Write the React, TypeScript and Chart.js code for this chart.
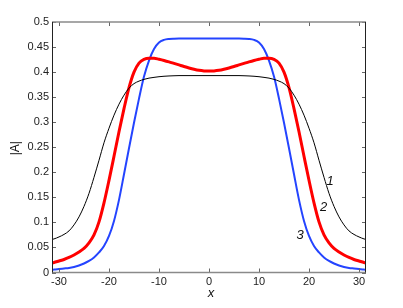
import React, { useEffect, useRef } from "react";
import { Chart, registerables } from "chart.js";

Chart.register(...registerables);

// x positions (sampled)
const xs = [
  -31.4, -31, -30, -29, -28, -27, -26, -25, -24, -23,
  -22, -21, -20, -19, -18, -17, -16, -15, -14, -13,
  -12, -11, -10, -9, -8, -7, -6, -5, -4, -3, -2, -1,
  0,
  1, 2, 3, 4, 5, 6, 7, 8, 9, 10, 11, 12,
  13, 14, 15, 16, 17, 18, 19, 20, 21, 22,
  23, 24, 25, 26, 27, 28, 29, 30, 31, 31.4,
];

// curve 1 (thin black)
const curve1 = [
  0.066, 0.067, 0.071, 0.076, 0.083, 0.095, 0.111, 0.132, 0.158, 0.190,
  0.224, 0.259, 0.288, 0.314, 0.336, 0.354, 0.368, 0.377, 0.382, 0.3855,
  0.388, 0.3895, 0.3908, 0.3917, 0.3923, 0.3927, 0.393, 0.393, 0.393, 0.393, 0.393, 0.393,
  0.393,
  0.393, 0.393, 0.393, 0.393, 0.393, 0.393, 0.3927, 0.3923, 0.3917, 0.3908, 0.3895, 0.388,
  0.3855, 0.382, 0.377, 0.368, 0.354, 0.336, 0.314, 0.288, 0.259, 0.224,
  0.190, 0.158, 0.132, 0.111, 0.095, 0.083, 0.076, 0.071, 0.067, 0.066,
];

// curve 2 (thick red)
const curve2 = [
  0.019, 0.020, 0.023, 0.026, 0.030, 0.035, 0.041, 0.048, 0.059, 0.075,
  0.101, 0.139, 0.184, 0.232, 0.281, 0.327, 0.369, 0.400, 0.418, 0.4255,
  0.4278, 0.4278, 0.4257, 0.4233, 0.4205, 0.4174, 0.4143, 0.4112, 0.4083, 0.4057, 0.4036, 0.4024,
  0.402,
  0.4024, 0.4036, 0.4057, 0.4083, 0.4112, 0.4143, 0.4174, 0.4205, 0.4233, 0.4257, 0.4278, 0.4278,
  0.4255, 0.418, 0.400, 0.369, 0.327, 0.281, 0.232, 0.184, 0.139, 0.101,
  0.075, 0.059, 0.048, 0.041, 0.035, 0.030, 0.026, 0.023, 0.020, 0.019,
];

// curve 3 (blue)
const curve3 = [
  0.005, 0.006, 0.007, 0.008, 0.009, 0.011, 0.014, 0.018, 0.023, 0.030,
  0.040, 0.053, 0.073, 0.103, 0.145, 0.196, 0.248, 0.299, 0.347, 0.391,
  0.423, 0.446, 0.459, 0.4643, 0.4662, 0.4668, 0.467, 0.467, 0.467, 0.467, 0.467, 0.467,
  0.467,
  0.467, 0.467, 0.467, 0.467, 0.467, 0.467, 0.4668, 0.4662, 0.4643, 0.459, 0.446, 0.423,
  0.391, 0.347, 0.299, 0.248, 0.196, 0.145, 0.103, 0.073, 0.053, 0.040,
  0.030, 0.023, 0.018, 0.014, 0.011, 0.009, 0.008, 0.007, 0.006, 0.005,
];

const xTicks = [-30, -20, -10, 0, 10, 20, 30];
const xTickLabels = ["-30", "-20", "-10", "0", "10", "20", "30"];
const yTicks = [0, 0.05, 0.1, 0.15, 0.2, 0.25, 0.3, 0.35, 0.4, 0.45, 0.5];
const yTickLabels = ["0", "0.05", "0.1", "0.15", "0.2", "0.25", "0.3", "0.35", "0.4", "0.45", "0.5"];

const curveLabels = ["1", "2", "3"];
const curveLabelX = [24.2, 22.9, 18.2];
const curveLabelY = [0.182, 0.129, 0.075];

const xTitle = "x";
const yTitle = "|A|";

const FONT = "'Liberation Sans', Arial, Helvetica, sans-serif";

const framePlugin = {
  id: "frame",
  afterDraw(chart: any) {
    const { ctx, chartArea: a, scales } = chart;
    const xs_ = scales.x;
    const ys_ = scales.y;
    ctx.save();
    // inward ticks
    ctx.strokeStyle = "#666";
    ctx.lineWidth = 1;
    const tl = 4;
    xTicks.forEach((v) => {
      const px = Math.round(xs_.getPixelForValue(v)) + 0.5;
      ctx.beginPath();
      ctx.moveTo(px, a.bottom);
      ctx.lineTo(px, a.bottom - tl);
      ctx.moveTo(px, a.top);
      ctx.lineTo(px, a.top + tl);
      ctx.stroke();
    });
    yTicks.forEach((v) => {
      const py = Math.round(ys_.getPixelForValue(v)) + 0.5;
      ctx.beginPath();
      ctx.moveTo(a.left, py);
      ctx.lineTo(a.left + tl, py);
      ctx.moveTo(a.right, py);
      ctx.lineTo(a.right - tl, py);
      ctx.stroke();
    });
    // spines
    ctx.strokeStyle = "#8a8a8a";
    ctx.lineWidth = 1.5;
    ctx.beginPath();
    ctx.moveTo(a.left, a.top);
    ctx.lineTo(a.right, a.top);
    ctx.moveTo(a.left, a.bottom);
    ctx.lineTo(a.right, a.bottom);
    ctx.stroke();
    ctx.strokeStyle = "#222";
    ctx.lineWidth = 1;
    ctx.beginPath();
    ctx.moveTo(Math.round(a.left) + 0.5, a.top);
    ctx.lineTo(Math.round(a.left) + 0.5, a.bottom);
    ctx.moveTo(Math.round(a.right) - 0.5, a.top);
    ctx.lineTo(Math.round(a.right) - 0.5, a.bottom);
    ctx.stroke();

    // curve labels
    ctx.fillStyle = "#111";
    ctx.font = `italic 13px ${FONT}`;
    ctx.textAlign = "center";
    ctx.textBaseline = "middle";
    curveLabels.forEach((t, i) => {
      ctx.fillText(t, xs_.getPixelForValue(curveLabelX[i]), ys_.getPixelForValue(curveLabelY[i]));
    });

    // axis titles
    ctx.font = `italic 13px ${FONT}`;
    ctx.fillText(xTitle, (a.left + a.right) / 2 + 2, a.bottom + 21);
    ctx.font = `12px ${FONT}`;
    ctx.translate(16, (a.top + a.bottom) / 2 + 1);
    ctx.rotate(-Math.PI / 2);
    ctx.fillText(yTitle, 0, 0);
    ctx.restore();
  },
};

export default function App() {
  const ref = useRef<HTMLCanvasElement | null>(null);
  useEffect(() => {
    if (!ref.current) return;
    const mk = (vals: number[]) => xs.map((x, i) => ({ x, y: vals[i] }));
    const chart = new Chart(ref.current, {
      type: "line",
      data: {
        datasets: [
          {
            label: curveLabels[0],
            data: mk(curve1),
            borderColor: "#000000",
            borderWidth: 1,
            pointRadius: 0,
            cubicInterpolationMode: "monotone",
          },
          {
            label: curveLabels[1],
            data: mk(curve2),
            borderColor: "#ff0000",
            borderWidth: 3,
            pointRadius: 0,
            cubicInterpolationMode: "monotone",
          },
          {
            label: curveLabels[2],
            data: mk(curve3),
            borderColor: "#2444ff",
            borderWidth: 2,
            pointRadius: 0,
            cubicInterpolationMode: "monotone",
          },
        ],
      },
      options: {
        responsive: false,
        animation: false,
        events: [],
        layout: { padding: { left: 0, top: 22, right: 37, bottom: 0 } },
        plugins: { legend: { display: false }, tooltip: { enabled: false } },
        scales: {
          x: {
            type: "linear",
            min: -31.4,
            max: 31.4,
            afterBuildTicks: (s: any) => {
              s.ticks = xTicks.map((v) => ({ value: v }));
            },
            afterFit: (s: any) => {
              s.height = 35.5;
            },
            grid: { display: false, drawTicks: false },
            border: { display: false },
            ticks: {
              autoSkip: false,
              maxRotation: 0,
              padding: 3,
              color: "#222",
              font: { family: FONT, size: 11 },
              callback: (_v: any, i: number) => xTickLabels[i],
            },
          },
          y: {
            type: "linear",
            min: 0,
            max: 0.5,
            afterBuildTicks: (s: any) => {
              s.ticks = yTicks.map((v) => ({ value: v }));
            },
            afterFit: (s: any) => {
              s.width = 52;
            },
            grid: { display: false, drawTicks: false },
            border: { display: false },
            ticks: {
              autoSkip: false,
              padding: 3,
              color: "#222",
              font: { family: FONT, size: 11 },
              callback: (_v: any, i: number) => yTickLabels[i],
            },
          },
        },
      },
      plugins: [framePlugin],
    } as any);
    return () => chart.destroy();
  }, []);
  return (
    <div style={{ position: "fixed", left: 0, top: 0, width: 403, height: 308, background: "#fff" }}>
      <canvas ref={ref} width={403} height={308} style={{ display: "block" }} />
    </div>
  );
}
